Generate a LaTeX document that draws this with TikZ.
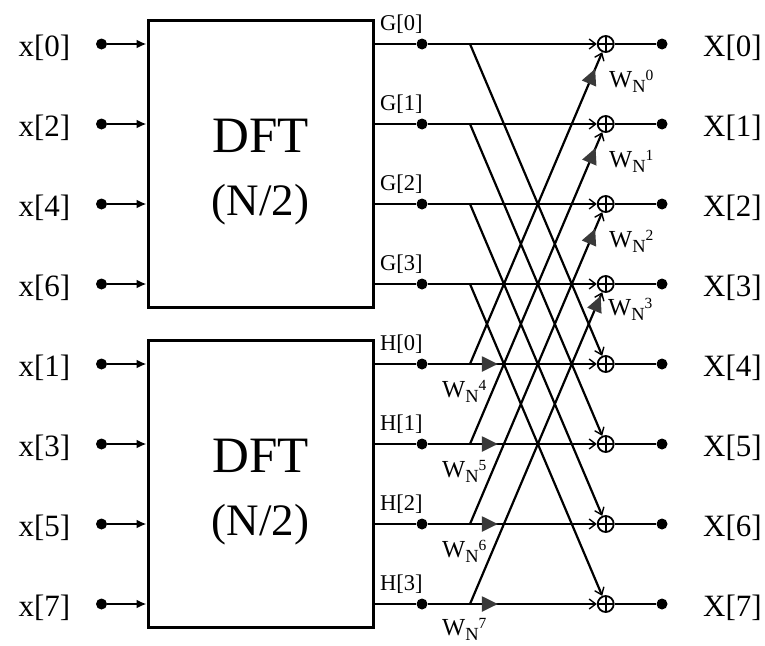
\documentclass[tikz,border=0pt]{standalone}
\usepackage{fontspec}
\setmainfont{Liberation Serif}
\usetikzlibrary{arrows.meta,decorations.markings}
\definecolor{tri}{HTML}{3A3A3A}
\newcommand\wlab[1]{W\raisebox{-5pt}{\fontsize{18.5}{18.5}\selectfont N}\raisebox{7pt}{\fontsize{15.5}{15.5}\selectfont #1}}
\tikzset{
  dot/.style={circle,fill=black,inner sep=0pt,minimum size=11pt},
  adder/.style={circle,draw,line width=1.8pt,inner sep=0pt,minimum size=16pt,
    path picture={\draw[line width=1.8pt] (path picture bounding box.north)--(path picture bounding box.south)
      (path picture bounding box.west)--(path picture bounding box.east);}},
  dftbox/.style={draw,line width=3pt,minimum width=225pt,minimum height=287pt,inner sep=0pt},
  wire/.style={line width=2.2pt},
  addarr/.style={-{Straight Barb[length=6.5pt,width=10pt,line width=1.4pt]}},
  inarr/.style={-{Latex[length=10pt,width=9pt]}},
  big/.style={font=\fontsize{31}{31}\selectfont,inner sep=0pt,anchor=base},
  small/.style={font=\fontsize{22.5}{22.5}\selectfont,inner sep=0pt,anchor=base west},
  wl/.style={font=\fontsize{24.5}{24.5}\selectfont,inner sep=0pt,anchor=base west},
  trimark/.style={postaction={decorate},decoration={markings,
    mark=at position #1 with {\arrow{Triangle[length=16pt,width=15pt,color=tri]}}}}
}
\begin{document}
\begin{tikzpicture}[x=1pt,y=-1pt]
\useasboundingbox (0,0) rectangle (765,645);
% DFT boxes
\node[dftbox] (dftA) at (260.5,163.5) {};
\node[dftbox] (dftB) at (260.5,483.5) {};
\node[font=\fontsize{51}{51}\selectfont,inner sep=0pt,anchor=base] (tA1) at (260.5,152) {DFT};
\node[font=\fontsize{45}{45}\selectfont,inner sep=0pt,anchor=base] (tA2) at (260.5,215) {(N/2)};
\node[font=\fontsize{51}{51}\selectfont,inner sep=0pt,anchor=base] (tB1) at (260.5,472) {DFT};
\node[font=\fontsize{45}{45}\selectfont,inner sep=0pt,anchor=base] (tB2) at (260.5,535) {(N/2)};
% rows
\foreach \i/\n/\b/\lab in {0/0/dftA/G[0],1/2/dftA/G[1],2/4/dftA/G[2],3/6/dftA/G[3],4/1/dftB/H[0],5/3/dftB/H[1],6/5/dftB/H[2],7/7/dftB/H[3]} {
  \pgfmathsetmacro\yy{44+80*\i}
  \node[dot] (in\i) at (101.5,\yy) {};
  \node[big] (xl\i) at (44.5,\yy+12.5) {x[\n]};
  \node[dot] (m\i) at (422,\yy) {};
  \node[small] (gl\i) at (380,\yy-14) {\lab};
  \coordinate (d\i) at (470,\yy);
  \node[adder] (a\i) at (605.7,\yy) {};
  \node[dot] (o\i) at (662,\yy) {};
  \node[big] (Xl\i) at (732.5,\yy+12.5) {X[\i]};
  \draw[wire,inarr] (in\i) -- (in\i -| \b.west);
  \draw[wire] (m\i -| \b.east) -- (m\i);
  \draw[wire] (a\i) -- (o\i);
}
% horizontal wires into adders
\foreach \i in {0,1,2,3} {
  \draw[wire,addarr] (m\i) -- (a\i);
}
\foreach \i in {4,5,6,7} {
  \draw[wire,addarr,trimark=0.415] (m\i) -- (a\i);
}
% downward diagonals
\foreach \i/\j in {0/4,1/5,2/6,3/7} {
  \draw[wire,addarr] (d\i) -- (a\j);
}
% upward diagonals with twiddle factors
\foreach \i/\j/\p in {4/0/-18pt,5/1/-17pt,6/2/-18pt,7/3/-4pt} {
  \draw[wire,addarr,trimark=\p] (d\i) -- (a\j);
}
% twiddle labels
\node[wl] (w0) at (609,87) {\wlab{0}};
\node[wl] (w1) at (609,167) {\wlab{1}};
\node[wl] (w2) at (609,247) {\wlab{2}};
\node[wl] (w3) at (608,315) {\wlab{3}};
\node[wl] (w4) at (442,397) {\wlab{4}};
\node[wl] (w5) at (442,477) {\wlab{5}};
\node[wl] (w6) at (442,557) {\wlab{6}};
\node[wl] (w7) at (442,635) {\wlab{7}};
\end{tikzpicture}
\end{document}
